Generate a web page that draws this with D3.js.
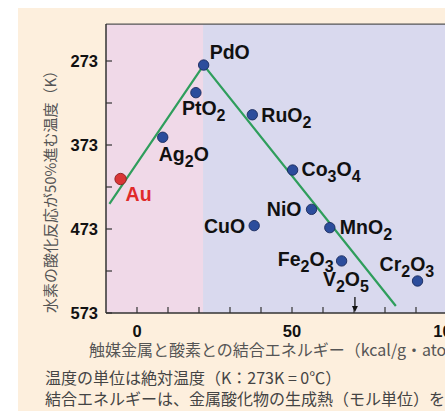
<!DOCTYPE html>
<html><head><meta charset="utf-8">
<script src="https://cdn.jsdelivr.net/npm/d3@7"></script>
<style>
html,body{margin:0;padding:0;background:#fff;}
svg{display:block;}
text{font-family:"Liberation Sans",Arial,sans-serif;}
.jp{font-family:"Noto Sans CJK JP","Noto Sans",sans-serif;}
</style></head>
<body>
<svg id="c" width="445" height="411"></svg>
<script>
// ---- data ----
const oxides   = ["Au","Ag_2O","PtO_2","PdO","RuO_2","CuO","Co_3O_4","NiO","MnO_2","Fe_2O_3","Cr_2O_3"];
const energies = [-5.3, 8.3, 19.0, 21.5, 37.2, 37.8, 50.2, 56.3, 62.2, 66.0, 90.5];
const temps    = [413.5, 363.8, 310.7, 277.8, 337, 469, 402.8, 449.6, 471.4, 511, 534.9];
const offScaleName = "V_2O_5";
const offScaleEnergy = 70.3;
const trendEnergy = [-8.9, 21.5, 83.5];
const trendTemp   = [443, 277.8, 564.7];
const yTicks = [273, 373, 473, 573];
const yMinor = [323, 423, 523];
const xTicks = [0, 50, 100];
const xMinor = [10, 20, 30, 40, 60, 70, 80, 90];
const regionBoundary = 21.3;
const yTitle = "水素の酸化反応が50%進む温度（K）";
const xTitle = "触媒金属と酸素との結合エネルギー（kcal/g・atom）";
const note1 = "温度の単位は絶対温度（K：273K = 0℃）";
const note2 = "結合エネルギーは、金属酸化物の生成熱（モル単位）を";
// label layout (dx, dy, anchor) per oxide
const labelLayout = [[5,22,"start"],[-4,24,"start"],[-14,22,"start"],[6,-6,"start"],[9,7,"start"],[-9,7,"end"],[9,6,"start"],[-10,7,"end"],[10,6,"start"],[-8,5,"end"],[-38,-10,"start"]];

const svg = d3.select("#c");
// cream panel
svg.append("rect").attr("x",18).attr("y",8).attr("width",440).attr("height",410).attr("fill","#fdefdd");

const x = d3.scaleLinear().domain([-10,100]).range([106,447]);
const y = d3.scaleLinear().domain([273,573]).range([61,313]);
const yTop = 229;

// regions
svg.append("rect").attr("x",x(-10)).attr("y",y(yTop)).attr("width",x(regionBoundary)-x(-10)).attr("height",y(573)-y(yTop)).attr("fill","#f0d9e8");
svg.append("rect").attr("x",x(regionBoundary)).attr("y",y(yTop)).attr("width",x(110)-x(regionBoundary)).attr("height",y(573)-y(yTop)).attr("fill","#d9d9ee");

// frame lines
svg.append("line").attr("x1",x(-10)).attr("x2",x(110)).attr("y1",y(yTop)).attr("y2",y(yTop)).attr("stroke","#555").attr("stroke-width",1.2);
svg.append("line").attr("x1",x(-10)).attr("x2",x(-10)).attr("y1",y(yTop)).attr("y2",y(573)).attr("stroke","#333").attr("stroke-width",1.5);
svg.append("line").attr("x1",x(-10)).attr("x2",x(110)).attr("y1",y(573)).attr("y2",y(573)).attr("stroke","#333").attr("stroke-width",1.5);

// y ticks (inward)
const tickCol = "#333";
[...yTicks,...yMinor].forEach(v=>{
  svg.append("line").attr("x1",x(-10)).attr("x2",x(-10)+6).attr("y1",y(v)).attr("y2",y(v)).attr("stroke",tickCol).attr("stroke-width",1.2);
});
yTicks.forEach(v=>{
  svg.append("text").attr("x",98).attr("y",y(v)+6).attr("text-anchor","end")
    .attr("font-size",16.5).attr("font-weight","bold").attr("fill","#111").text(v);
});
// x ticks (inward)
[...xTicks,...xMinor].forEach(v=>{
  svg.append("line").attr("x1",x(v)).attr("x2",x(v)).attr("y1",y(573)).attr("y2",y(573)-6).attr("stroke",tickCol).attr("stroke-width",1.2);
});
xTicks.forEach(v=>{
  svg.append("text").attr("x",x(v)).attr("y",337).attr("text-anchor","middle")
    .attr("font-size",16.5).attr("font-weight","bold").attr("fill","#111").text(v);
});

// trend line
const line = d3.line().x(d=>x(d[0])).y(d=>y(d[1]));
svg.append("path").datum(d3.zip(trendEnergy,trendTemp)).attr("d",line).attr("fill","none").attr("stroke","#2f9e5c").attr("stroke-width",2.2);

// labels with subscripts
function addLabel(px,py,name,anchor,color){
  const t = svg.append("text").attr("x",px).attr("y",py).attr("text-anchor",anchor)
    .attr("font-size",19.5).attr("font-weight","bold").attr("fill",color);
  const parts = name.split(/(_\d)/).filter(s=>s.length);
  parts.forEach((p,i)=>{
    if(p[0]==="_"){
      t.append("tspan").attr("dy",6).attr("font-size",16).text(p.slice(1));
    } else {
      const prevSub = i>0 && parts[i-1][0]==="_";
      t.append("tspan").attr("dy",prevSub?-6:0).text(p);
    }
  });
}

// points
oxides.forEach((n,i)=>{
  const isAu = n==="Au";
  svg.append("circle").attr("cx",x(energies[i])).attr("cy",y(temps[i])).attr("r",isAu?5.7:5.2)
    .attr("fill",isAu?"#d93636":"#2c4d9c").attr("stroke",isAu?"#8a1f1f":"#1a2a5c").attr("stroke-width",0.9);
  const L = labelLayout[i];
  addLabel(x(energies[i])+L[0], y(temps[i])+L[1], n, L[2], isAu?"#e02a2a":"#111");
});

// V2O5 arrow (off scale)
const ax = x(offScaleEnergy);
svg.append("line").attr("x1",ax).attr("x2",ax).attr("y1",297).attr("y2",y(573)-5).attr("stroke","#111").attr("stroke-width",1.3);
svg.append("path").attr("d",`M${ax-3},${y(573)-7}L${ax+3},${y(573)-7}L${ax},${y(573)-1}Z`).attr("fill","#111");
addLabel(ax-32, 286, offScaleName, "start", "#111");

// titles
svg.append("text").attr("class","jp").attr("transform",`translate(56,${188}) rotate(-90)`)
  .attr("text-anchor","middle").attr("font-size",15).attr("fill","#555").text(yTitle);
svg.append("text").attr("class","jp").attr("x",89).attr("y",356)
  .attr("font-size",16).attr("fill","#555").text(xTitle);
svg.append("text").attr("class","jp").attr("x",45).attr("y",384)
  .attr("font-size",16).attr("fill","#444").text(note1);
svg.append("text").attr("class","jp").attr("x",45).attr("y",405)
  .attr("font-size",16).attr("fill","#444").text(note2);
</script>
</body></html>
